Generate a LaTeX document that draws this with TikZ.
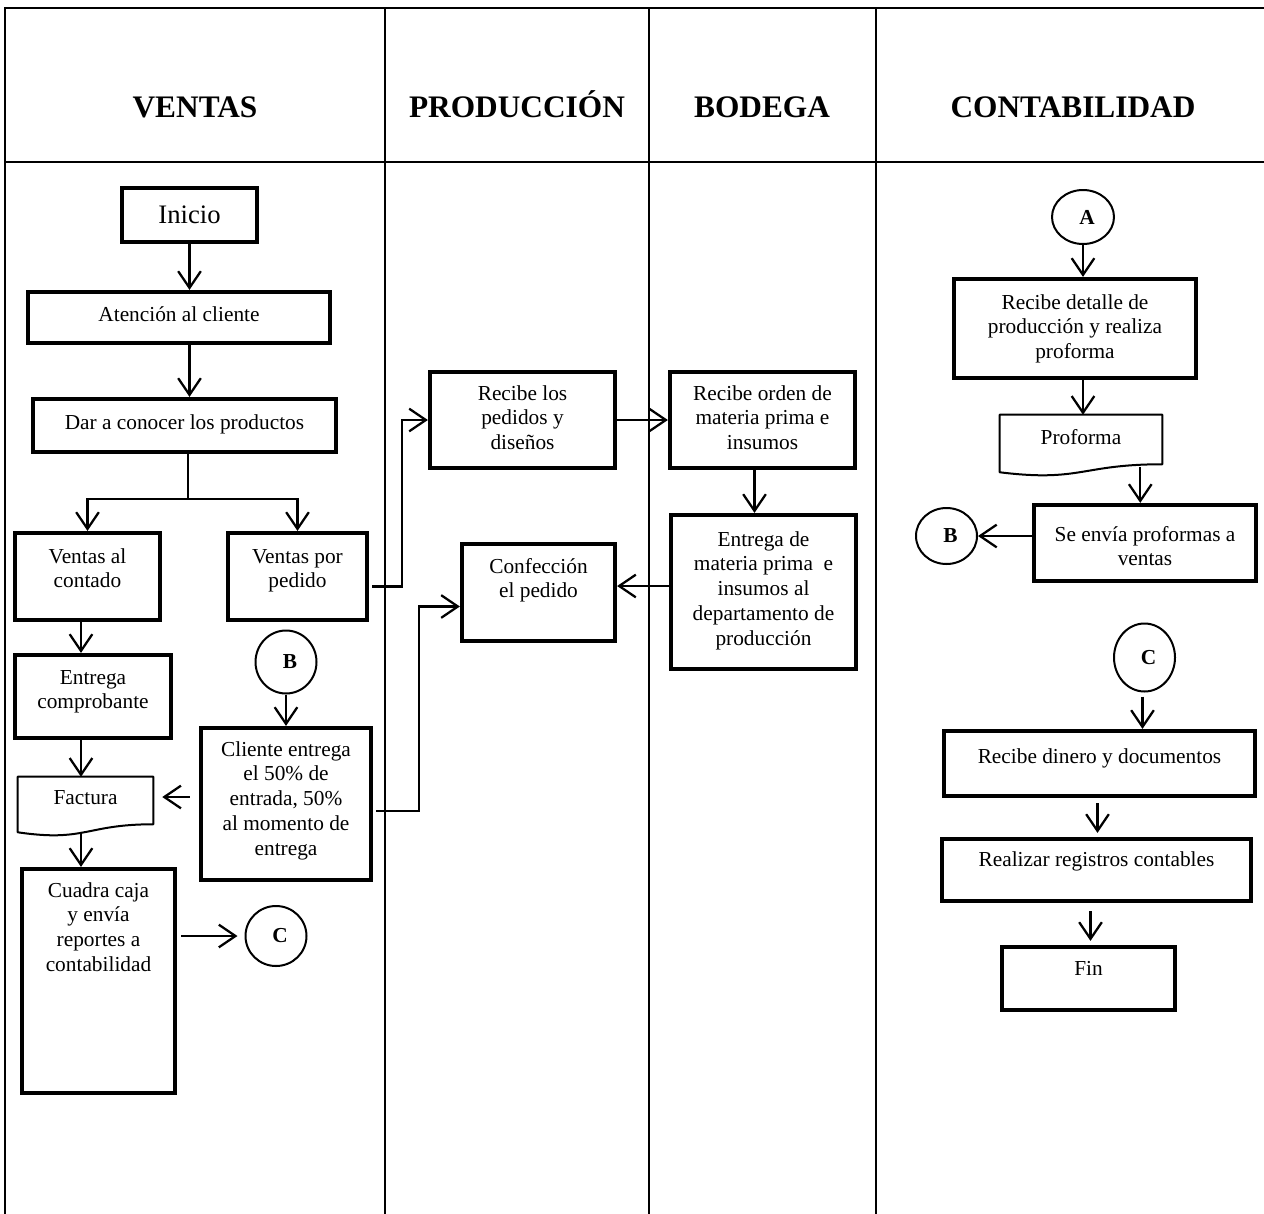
\documentclass[tikz,border=0pt]{standalone}
\usepackage{fontspec}
\setmainfont{Liberation Serif}
\usetikzlibrary{arrows.meta,calc,shapes.geometric}

% one drawing unit = 0.75pt
\newdimen\pxu \pxu=0.75pt

% box node with top-aligned, centred lines of text
% [style]{name}{x}{y}{width}{height}{top gap}{text}
\newcommand\tbox[8][proc]{%
  \node[#1, minimum width=#5*0.75pt, minimum height=#6*0.75pt] (#2) at (#3,#4)
    {\parbox[c][#6\pxu][t]{#5\pxu}{\centering\vspace*{#7\pxu}\strut #8\par}};}

\begin{document}
\begin{tikzpicture}[x=0.75pt, y=-0.75pt,
  grid/.style={line width=1.5pt, line cap=rect},
  hdr/.style={anchor=base, font=\bfseries\fontsize{23.5}{28}\selectfont},
  body/.style={font=\fontsize{16}{18.6}\selectfont},
  proc/.style={draw, line width=3.2pt, inner sep=0pt, body},
  docnode/.style={inner sep=0pt, body},
  docline/.style={line width=1.5pt, line join=round},
  conn/.style={draw, ellipse, line width=1.5pt, inner sep=0pt,
    font=\bfseries\fontsize{16}{19}\selectfont},
  arr/.style={line width=1.7pt, -{Straight Barb[length=12.5pt,width=17pt]}},
  trunk/.style={line width=0.9pt}
]
\useasboundingbox (0,0) rectangle (1264,1214);

% swimlane table
\draw[grid] (5,1214) -- (5,8) -- (1264,8);
\draw[grid] (5,162) -- (1264,162);
\foreach \lx in {385,649,876} \draw[grid] (\lx,8) -- (\lx,1214);

\node[hdr] (hventas) at (195,117.5) {VENTAS};
\node[hdr] (hprod) at (517,117.5) {PRODUCCIÓN};
\node[hdr] (hbod) at (762,117.5) {BODEGA};
\node[hdr] (hcont) at (1073,117.5) {CONTABILIDAD};

% ---- Ventas ----
\node[proc, minimum width=135*0.75pt, minimum height=54*0.75pt,
      font=\fontsize{20}{24}\selectfont] (inicio) at (189.5,215) {Inicio};
\tbox{aten}{179}{317.5}{302}{51}{11.7}{Atención al cliente}
\tbox{dar}{184.5}{425.5}{303}{53}{12.7}{Dar a conocer los productos}
\tbox{contado}{87.5}{576.5}{145}{87}{12.7}{Ventas al\\contado}
\tbox{pedido}{297.5}{576.5}{139}{87}{12.7}{Ventas por\\pedido}
\tbox{entcomp}{93}{696.5}{156}{83}{11.7}{Entrega\\comprobante}
\tbox[docnode]{fac}{85.5}{804.5}{135}{55}{9.7}{Factura}
\tbox{cuadra}{98.5}{981}{153}{224}{10.7}{Cuadra caja\\y envía\\reportes a\\contabilidad}
\tbox{cliente}{286}{804}{170}{152}{10.7}{Cliente entrega\\el 50\% de\\entrada, 50\%\\al momento de\\entrega}
\node[conn, minimum width=61*0.75pt, minimum height=63*0.75pt] (cb1) at (286,662) {\kern6pt B};
\node[conn, minimum width=61*0.75pt, minimum height=60*0.75pt] (cc1) at (276,936) {\kern6pt C};

% ---- Producción ----
\tbox{rped}{522.5}{420}{185}{96}{10.7}{Recibe los\\pedidos y\\diseños}
\tbox{conf}{538.5}{592.5}{153}{97}{11.7}{Confección\\el pedido}

% ---- Bodega ----
\tbox{rorden}{762.5}{420}{185}{96}{10.7}{Recibe orden de\\materia prima e\\insumos}
\tbox{entmp}{763.5}{592}{185}{154}{13.7}{Entrega de\\materia prima~ e\\insumos al\\departamento de\\producción}

% ---- Contabilidad ----
\node[conn, minimum width=62*0.75pt, minimum height=54*0.75pt] (ca) at (1083,217) {\kern6pt A};
\tbox{rdet}{1075}{328.5}{242}{99}{12.7}{Recibe detalle de\\producción y realiza\\proforma}
\tbox[docnode]{pro}{1081}{443.5}{162}{57}{11.7}{Proforma}
\tbox{envia}{1145}{543}{222}{76}{18.7}{Se envía proformas a\\ventas}
\node[conn, minimum width=61*0.75pt, minimum height=56*0.75pt] (cb2) at (946.5,536) {\kern6pt B};
\node[conn, minimum width=61*0.75pt, minimum height=68*0.75pt] (cc2) at (1144.5,657.5) {\kern6pt C};
\tbox{rdin}{1099.5}{763.5}{311}{65}{14.7}{Recibe dinero y documentos}
\tbox{rreg}{1096.5}{870}{309}{62}{9.7}{Realizar registros contables}
\tbox{fin}{1088.5}{978.5}{173}{63}{10.7}{Fin}

% document outlines (wavy bottom edge)
\foreach \d in {fac,pro}
  \draw[docline] (\d.north west) -- (\d.north east) -- ($(\d.south east)+(0,-8)$)
    .. controls ($(\d.south)+(0,-8)$) and ($(\d.south)+(0,10)$) .. (\d.south west) -- cycle;

% ---- connectors ----
\coordinate (lc) at (81,0);
\coordinate (split) at (188,499);
\coordinate (pout) at ($(pro.south east)+(-22,-5)$);

\draw[arr] (inicio.south) -- (inicio.south |- aten.north);
\draw[arr] (inicio.south |- aten.south) -- (inicio.south |- dar.north);
\draw[trunk] (split |- dar.south) -- (split);
\draw[arr] (split) -| (contado.north);
\draw[arr] (split) -| (pedido.north);
\draw[arr] (contado.south -| lc) -- (entcomp.north -| lc);
\draw[arr] (entcomp.south -| lc) -- (fac.north -| lc);
\draw[arr] (fac.south -| lc) -- (cuadra.north -| lc);
\draw[arr] (cb1.south) -- (cb1.south |- cliente.north);
\draw[arr] ($(cliente.west)+(-9,-7)$) -- ($(fac.east |- cliente.west)+(9,-7)$);
\draw[arr] ($(cuadra.east |- cc1)+(4,0)$) -- ($(cc1.west)+(-7,0)$);
\draw[arr] ($(pedido.east)+(3,10)$) -- ++(30,0) |- (rped.west);
\draw[arr] ($(cliente.east)+(3,7)$) -- ++(43,0) |- ($(conf.west)+(0,14)$);
\draw[arr] (rped.east) -- (rorden.west);
\draw[arr] ($(rorden.south)+(-8,0)$) -- ($(rorden.south |- entmp.north)+(-8,0)$);
\draw[arr] ($(entmp.west)+(0,-6)$) -- ($(conf.east |- entmp.west)+(0,-6)$);

\draw[arr] (ca.south) -- (ca.south |- rdet.north);
\draw[arr] (ca.south |- rdet.south) -- (ca.south |- pro.north);
\draw[arr] (pout) -- (pout |- envia.north);
\draw[arr] (envia.west |- cb2) -- (cb2.east);
\draw[arr] ($(cc2.south)+(-2,4)$) -- ($(cc2.south |- rdin.north)+(-2,0)$);
\draw[arr] ($(rdin.south)+(-2,5)$) -- ($(rdin.south |- rreg.north)+(-2,-4)$);
\draw[arr] ($(rreg.south)+(-6,8)$) -- ($(rreg.south |- fin.north)+(-6,-4)$);
\end{tikzpicture}
\end{document}
